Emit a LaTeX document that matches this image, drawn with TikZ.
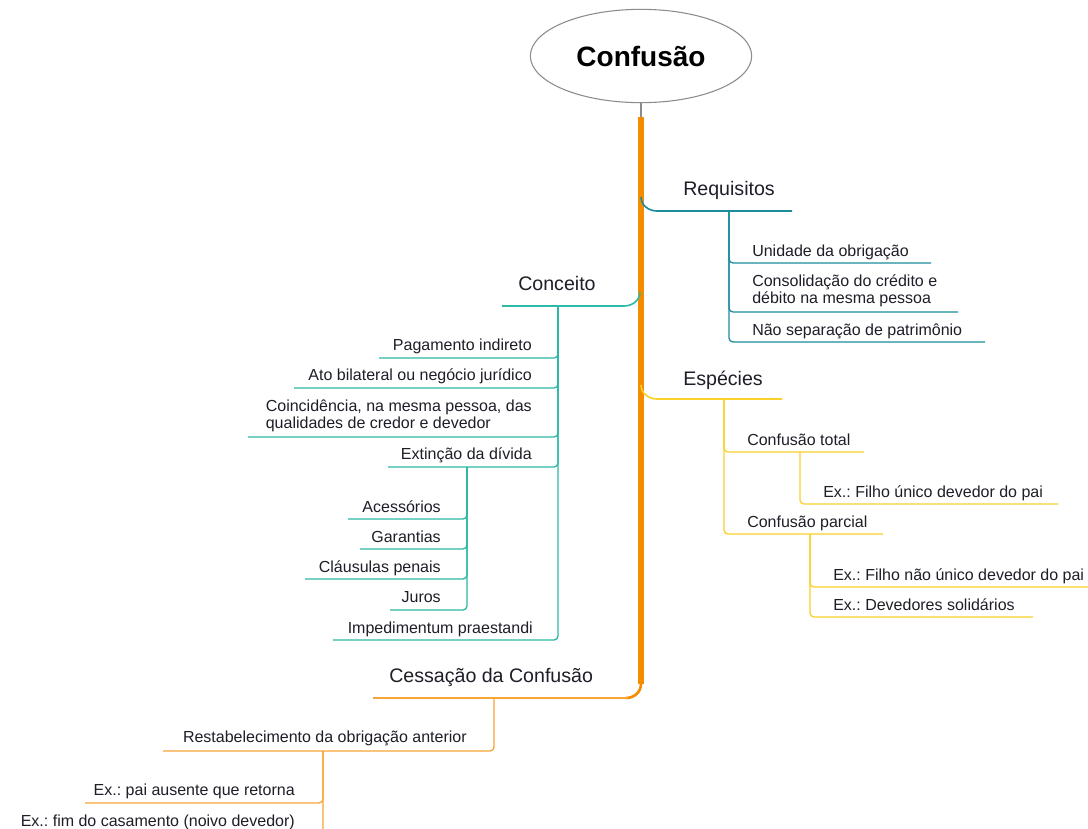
\documentclass[tikz,border=0pt]{standalone}
\usepackage{fontspec}
\setmainfont{Liberation Sans}
\usetikzlibrary{shapes.geometric}
\frenchspacing

\definecolor{trunkc}{RGB}{245,140,0}
\definecolor{reqc}{RGB}{30,140,155}
\definecolor{conc}{RGB}{45,185,165}
\definecolor{espc}{RGB}{250,210,40}
\definecolor{cesc}{RGB}{248,165,55}
\definecolor{txt}{RGB}{30,30,40}

\tikzset{
  title/.style={ellipse, draw=black!45, line width=0.8pt, fill=white,
    minimum width=166pt, minimum height=70pt, inner sep=0pt,
    font=\fontsize{21}{25}\selectfont\bfseries, text=black},
  branch/.style={inner sep=0pt, font=\fontsize{14.7}{18}\selectfont, text=txt},
  leaf/.style={inner sep=0pt, font=\fontsize{12}{12.2}\selectfont, text=txt, align=left},
  link/.style={line width=1pt, rounded corners=3pt},
  mainlink/.style={line width=1.2pt},
}

\begin{document}
\begin{tikzpicture}[x=0.75pt,y=-0.75pt]
\clip (0,0) rectangle (1088,828);
\fill[white] (0,0) rectangle (1088,828);

% central topic and trunk
\node[title] (root) at (641,56) {Confusão};
\coordinate (trunktop) at (641,117);
\coordinate (trunkbot) at (641,684);
\draw[black!45, line width=0.8pt] (root.south) -- (trunktop);
\draw[trunkc, line width=4.5pt] (trunktop) -- (trunkbot);

% ---------- Requisitos ----------
\node[branch, anchor=base west] (req) at (683,195) {Requisitos};
\coordinate (reqend) at (792,211);
\draw[reqc, mainlink] (641,197) to[out=-90,in=180] (657,211) -- (reqend);
\coordinate (reqv) at (729,211);
\node[leaf, anchor=base west] (r1) at (752,256) {Unidade da obrigação};
\node[leaf, anchor=base west] (r2) at (752,303) {Consolidação do crédito e\\débito na mesma pessoa};
\node[leaf, anchor=base west] (r3) at (752,335) {Não separação de patrimônio};
\draw[reqc, link] (reqv) |- (931,263);
\draw[reqc, link] (reqv) |- (958,312);
\draw[reqc, link] (reqv) |- (985,342);

% ---------- Conceito ----------
\node[branch, anchor=base west] (con) at (518,290) {Conceito};
\draw[conc, mainlink] (502,306) -- (624,306) to[out=0,in=-90] (640,292);
\coordinate (conv) at (558,306);
\node[leaf, anchor=base east] (c1) at (532,350) {Pagamento indireto};
\node[leaf, anchor=base east] (c2) at (532,380) {Ato bilateral ou negócio jurídico};
\node[leaf, anchor=base east] (c3) at (532,428) {Coincidência, na mesma pessoa, das\\qualidades de credor e devedor};
\node[leaf, anchor=base east] (c4) at (532,459) {Extinção da dívida};
\node[leaf, anchor=base east] (c5) at (533,633) {Impedimentum praestandi};
\draw[conc, link] (conv) |- (379,358);
\draw[conc, link] (conv) |- (294,388);
\draw[conc, link] (conv) |- (248,437);
\draw[conc, link] (conv) |- (388,467);
\draw[conc, link] (conv) |- (333,640);

% consequences of the extinction
\coordinate (extv) at (467,467);
\node[leaf, anchor=base east] (e1) at (441,512) {Acessórios};
\node[leaf, anchor=base east] (e2) at (441,542) {Garantias};
\node[leaf, anchor=base east] (e3) at (441,572) {Cláusulas penais};
\node[leaf, anchor=base east] (e4) at (441,602) {Juros};
\draw[conc, link] (extv) |- (348,519);
\draw[conc, link] (extv) |- (360,549);
\draw[conc, link] (extv) |- (305,579);
\draw[conc, link] (extv) |- (390,610);

% ---------- Espécies ----------
\node[branch, anchor=base west] (esp) at (683,385) {Espécies};
\draw[espc, mainlink] (641,385) to[out=-90,in=180] (657,399) -- (782,399);
\coordinate (espv) at (724,399);
\node[leaf, anchor=base west] (s1) at (747,445) {Confusão total};
\node[leaf, anchor=base west] (s2) at (747,527) {Confusão parcial};
\draw[espc, link] (espv) |- (864,452);
\draw[espc, link] (espv) |- (883,534);
\coordinate (totv) at (800,452);
\node[leaf, anchor=base west] (s11) at (823,497) {Ex.: Filho único devedor do pai};
\draw[espc, link] (totv) |- (1058,504);
\coordinate (parv) at (810,534);
\node[leaf, anchor=base west] (s21) at (833,580) {Ex.: Filho não único devedor do pai};
\node[leaf, anchor=base west] (s22) at (833,610) {Ex.: Devedores solidários};
\draw[espc, link] (parv) |- (1095,587);
\draw[espc, link] (parv) |- (1033,617);

% ---------- Cessação da Confusão ----------
\node[branch, anchor=base west] (ces) at (389,682) {Cessação da Confusão};
\draw[trunkc, line width=2pt] (trunkbot) to[out=-90,in=0] (626,698);
\draw[cesc, mainlink] (628,698) -- (373,698);
\coordinate (cesv) at (494,698);
\node[leaf, anchor=base east] (x1) at (467,742) {Restabelecimento da obrigação anterior};
\draw[cesc, link] (cesv) |- (163,751);
\coordinate (resv) at (323,751);
\node[leaf, anchor=base east] (x11) at (295,795) {Ex.: pai ausente que retorna};
\node[leaf, anchor=base east] (x12) at (295,826) {Ex.: fim do casamento (noivo devedor)};
\draw[cesc, link] (resv) |- (85,803);
\draw[cesc, link] (resv) |- (10,834);
\end{tikzpicture}
\end{document}
